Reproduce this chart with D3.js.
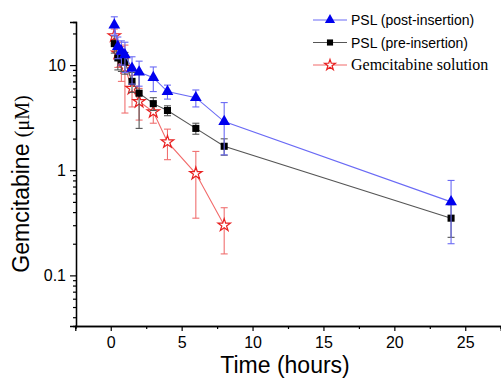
<!DOCTYPE html>
<html>
<head>
<meta charset="utf-8">
<script src="https://cdn.jsdelivr.net/npm/d3@7/dist/d3.min.js"></script>
<style>
  body { margin: 0; background: #fff; }
  svg { display: block; }
</style>
</head>
<body>
<svg id="chart" width="501" height="378"></svg>
<script>
// Time points (hours)
var times = [0.25, 0.5, 0.75, 1, 1.5, 2, 3, 4, 6, 8, 24];

// PSL (post-insertion)
var postMean = [24, 15, 13.5, 12.5, 9.3, 8.6, 7.6, 5.6, 4.9, 2.9, 0.5];
var postErr  = [4.8, 3.5, 3.5, 4.0, 2.7, 2.3, 2.0, 0.85, 0.9, 1.5, 0.3];

// PSL (pre-insertion)
var preMean = [16, 11.7, 11.2, 10.7, 7.0, 5.4, 4.3, 3.7, 2.5, 1.69, 0.35];
var preErr  = [3.0, 2.7, 2.5, 2.5, 1.5, 2.9, 0.6, 0.4, 0.3, 0.3, 0.12];

// Gemcitabine solution
var solTimes = [0.25, 0.5, 0.75, 1, 1.5, 2, 3, 4, 6, 8];
var solMean  = [19, 13, 11, 9.5, 6.0, 4.5, 3.6, 1.86, 0.93, 0.30];
var solErr   = [3.0, 3.5, 4.0, 6.0, 2.0, 1.5, 0.8, 0.6, 0.58, 0.14];

var xTicks = [0, 5, 10, 15, 20, 25];
var yTicks = [0.1, 1, 10];

var svg = d3.select("#chart");

// scales
var x = d3.scaleLinear().domain([-2.5, 27.5]).range([75.3, 500.7]);
var y = d3.scaleLog().domain([0.033, 25.7]).range([326, 22]);

// axes
var xAxis = d3.axisBottom(x).tickValues(xTicks).tickSize(5).tickPadding(6);
var xMinor = d3.axisBottom(x).tickValues([-2.5, 2.5, 7.5, 12.5, 17.5, 22.5, 27.5]).tickSize(3).tickFormat("");
var yAxis = d3.axisLeft(y).tickValues(yTicks).tickSize(6).tickPadding(4)
              .tickFormat(function(d){ return d >= 1 ? d3.format("d")(d) : String(d); });
var minorVals = [];
[0.01, 0.1, 1, 10].forEach(function(dec){
  for (var k = 2; k <= 9; k++) {
    var v = dec * k;
    if (v >= 0.033 && v <= 25.7) minorVals.push(v);
  }
});
var yMinor = d3.axisLeft(y).tickValues(minorVals).tickSize(3).tickFormat("");

function styleAxis(g) {
  g.select(".domain").attr("stroke", "#000").attr("stroke-width", 1.3);
  g.selectAll(".tick line").attr("stroke", "#000").attr("stroke-width", 1.2);
  g.selectAll(".tick text").attr("fill", "#000")
    .style("font-family", "Arial, 'Liberation Sans', sans-serif").style("font-size", "16px");
}

svg.append("g").attr("transform", "translate(0,326)").call(xMinor).call(styleAxis);
svg.append("g").attr("transform", "translate(0,326)").call(xAxis).call(styleAxis);
svg.append("g").attr("transform", "translate(76,0)").call(yMinor).call(styleAxis);
svg.append("g").attr("transform", "translate(76,0)").call(yAxis).call(styleAxis);

// axis titles
svg.append("text")
  .attr("x", 285).attr("y", 373)
  .attr("text-anchor", "middle")
  .style("font-family", "Arial, 'Liberation Sans', sans-serif")
  .style("font-size", "23px")
  .text("Time (hours)");

var yl = svg.append("text")
  .attr("transform", "translate(29,184) rotate(-90)")
  .attr("text-anchor", "middle")
  .style("font-size", "23px");
yl.append("tspan").style("font-family", "Arial, 'Liberation Sans', sans-serif").text("Gemcitabine ");
yl.append("tspan").style("font-family", "'Liberation Serif', 'Times New Roman', serif").style("font-size", "20px").text("(\u03bcM)");

// series definitions
var series = [
  { name: "Gemcitabine solution", t: solTimes, m: solMean, e: solErr,
    line: "#f26a6a", err: "#f07070", symbol: d3.symbolStar, size: 48, fill: "#fff", stroke: "#e82020",
    font: "'Liberation Serif', 'Times New Roman', serif", fsize: 16 },
  { name: "PSL (pre-insertion)", t: times, m: preMean, e: preErr,
    line: "#555", err: "#555", symbol: d3.symbolSquare, size: 50, fill: "#000", stroke: "none",
    font: "Arial, 'Liberation Sans', sans-serif", fsize: 14 },
  { name: "PSL (post-insertion)", t: times, m: postMean, e: postErr,
    line: "#6a6af5", err: "#6a6af5", symbol: d3.symbolTriangle, size: 60, fill: "#0000ee", stroke: "none",
    font: "Arial, 'Liberation Sans', sans-serif", fsize: 14 }
];

var line = d3.line().x(function(d){ return x(d.t); }).y(function(d){ return y(d.m); });

series.forEach(function(s) {
  var data = s.t.map(function(t, i){ return { t: t, m: s.m[i], e: s.e[i] }; });
  var g = svg.append("g");

  g.append("path").datum(data)
    .attr("fill", "none").attr("stroke", s.line).attr("stroke-width", 1.1)
    .attr("d", line);

  var eb = g.selectAll(".eb").data(data).enter().append("g")
    .attr("stroke", s.err).attr("stroke-width", 1.1);
  eb.append("line")
    .attr("x1", function(d){ return x(d.t); }).attr("x2", function(d){ return x(d.t); })
    .attr("y1", function(d){ return y(d.m + d.e); })
    .attr("y2", function(d){ return y(Math.max(d.m - d.e, 0.034)); });
  eb.append("line")
    .attr("x1", function(d){ return x(d.t) - 3.5; }).attr("x2", function(d){ return x(d.t) + 3.5; })
    .attr("y1", function(d){ return y(d.m + d.e); }).attr("y2", function(d){ return y(d.m + d.e); });
  eb.append("line")
    .attr("x1", function(d){ return x(d.t) - 3.5; }).attr("x2", function(d){ return x(d.t) + 3.5; })
    .attr("y1", function(d){ return y(Math.max(d.m - d.e, 0.034)); })
    .attr("y2", function(d){ return y(Math.max(d.m - d.e, 0.034)); });

  g.selectAll(".pt").data(data).enter().append("path")
    .attr("transform", function(d){ return "translate(" + x(d.t) + "," + y(d.m) + ")"; })
    .attr("d", d3.symbol().type(s.symbol).size(s.size))
    .attr("fill", s.fill).attr("stroke", s.stroke).attr("stroke-width", 1.2);
});

// legend
var legendOrder = [series[2], series[1], series[0]];
var leg = svg.append("g");
legendOrder.forEach(function(s, i) {
  var ly = 20 + i * 22.5;
  leg.append("line").attr("x1", 313).attr("x2", 347).attr("y1", ly).attr("y2", ly)
    .attr("stroke", s.line).attr("stroke-width", 1.1);
  leg.append("path").attr("transform", "translate(330," + ly + ")")
    .attr("d", d3.symbol().type(s.symbol).size(s.size * 0.75))
    .attr("fill", s.fill).attr("stroke", s.stroke).attr("stroke-width", 1.2);
  leg.append("text").attr("x", 351).attr("y", ly + 5)
    .style("font-family", s.font).style("font-size", s.fsize + "px")
    .text(s.name);
});
</script>
</body>
</html>
